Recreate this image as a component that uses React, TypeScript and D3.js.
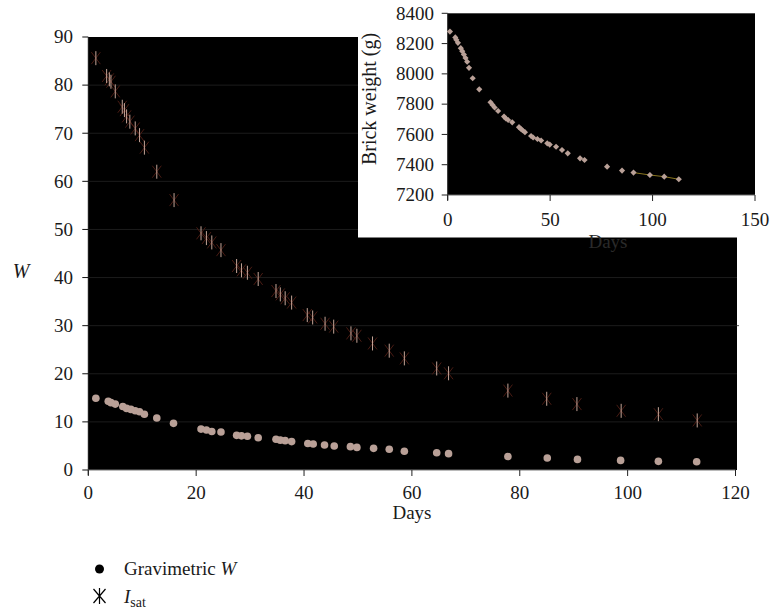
import React, { useEffect, useRef } from 'react';
import * as d3 from 'd3';

// Gravimetric W (main chart, circles)
const gravDays = [1.4, 3.7, 4.2, 5.0, 6.4, 7.1, 7.9, 8.7, 9.5, 10.4, 12.7, 15.8, 20.9, 21.9, 22.9, 24.6, 27.5, 28.4, 29.5, 31.5, 34.8, 35.6, 36.5, 37.7, 40.7, 41.7, 43.8, 45.6, 48.6, 49.8, 52.9, 55.8, 58.6, 64.6, 66.8, 77.8, 85.1, 90.7, 98.7, 105.7, 112.8];
const gravW = [14.9, 14.3, 14.0, 13.7, 13.2, 12.8, 12.6, 12.3, 12.1, 11.6, 10.8, 9.7, 8.5, 8.3, 8.0, 7.9, 7.2, 7.1, 7.0, 6.7, 6.4, 6.2, 6.1, 5.9, 5.5, 5.4, 5.2, 5.0, 4.85, 4.7, 4.5, 4.3, 3.9, 3.6, 3.4, 2.8, 2.5, 2.2, 2.0, 1.8, 1.7];

// I_sat (main chart, crosses with error bars)
const isatDays = [1.4, 3.4, 3.9, 4.2, 5.0, 6.3, 6.7, 7.1, 7.7, 8.7, 9.5, 10.4, 12.7, 15.9, 20.9, 21.9, 22.9, 24.6, 27.5, 28.4, 29.5, 31.5, 34.8, 35.6, 36.5, 37.7, 40.6, 41.6, 43.9, 45.5, 48.7, 49.8, 52.7, 55.8, 58.6, 64.6, 66.8, 77.8, 85.0, 90.6, 98.8, 105.7, 112.9];
const isatW = [85.6, 81.9, 81.2, 80.7, 78.7, 75.5, 74.8, 73.5, 72.4, 71.0, 69.6, 67.0, 62.0, 56.1, 49.2, 48.2, 47.3, 45.7, 42.4, 41.5, 41.0, 39.7, 37.2, 36.5, 35.7, 34.8, 32.2, 31.7, 30.4, 29.8, 28.4, 27.9, 26.3, 24.8, 23.2, 21.1, 20.1, 16.5, 14.8, 13.7, 12.3, 11.6, 10.3];

// Inset: brick weight (g)
const insetDays = [1.1, 3.7, 4.2, 5.0, 6.4, 7.1, 7.9, 8.7, 9.5, 10.4, 12.2, 15.4, 20.9, 21.9, 22.9, 24.6, 27.5, 28.4, 29.5, 31.5, 34.8, 35.6, 36.5, 37.7, 40.7, 41.7, 43.8, 45.6, 48.6, 49.8, 52.9, 55.8, 58.6, 64.6, 66.8, 77.8, 85.1, 90.7, 98.7, 105.7, 112.8];
const insetWeights = [8279, 8241, 8225, 8205, 8170, 8150, 8128, 8105, 8080, 8040, 7971, 7898, 7812, 7795, 7778, 7755, 7718, 7705, 7695, 7680, 7648, 7638, 7628, 7615, 7590, 7580, 7570, 7560, 7541, 7533, 7519, 7497, 7475, 7442, 7431, 7387, 7361, 7348, 7332, 7321, 7304];
const insetTrendDays = [90.7, 98.7, 105.7, 112.8];
const insetTrendWeights = [7348, 7332, 7321, 7304];

const mainXTicks = [0, 20, 40, 60, 80, 100, 120];
const mainYTicks = [0, 10, 20, 30, 40, 50, 60, 70, 80, 90];
const insetXTicks = [0, 50, 100, 150];
const insetYTicks = [7200, 7400, 7600, 7800, 8000, 8200, 8400];

const FONT = '"Liberation Serif", "Times New Roman", serif';
const POINT = '#b9a097';

export default function App() {
  const ref = useRef<SVGSVGElement>(null);

  useEffect(() => {
    const svg = d3.select(ref.current);
    svg.selectAll('*').remove();
    svg.attr('font-family', FONT);

    // ---------- main chart ----------
    const x = d3.scaleLinear().domain([0, 120]).range([88.3, 735.5]);
    const y = d3.scaleLinear().domain([0, 90]).range([470, 37]);

    const main = svg.append('g');
    main.append('rect')
      .attr('x', x(0)).attr('y', y(90))
      .attr('width', 737 - x(0)).attr('height', y(0) - y(90))
      .attr('fill', '#000');

    // gridlines
    main.append('g').selectAll('line')
      .data(mainYTicks.filter(t => t > 0 && t < 90))
      .join('line')
      .attr('x1', x(0)).attr('x2', 737)
      .attr('y1', d => y(d)).attr('y2', d => y(d))
      .attr('stroke', '#1c1c1c').attr('stroke-width', 1);
    main.append('line').attr('x1', 737).attr('x2', 739).attr('y1', y(30)).attr('y2', y(30)).attr('stroke', '#555');

    // y axis
    main.append('line').attr('x1', x(0)).attr('x2', x(0)).attr('y1', y(90)).attr('y2', y(0) + 5).attr('stroke', '#111');
    main.append('g').selectAll('line').data(mainYTicks).join('line')
      .attr('x1', x(0) - 6).attr('x2', x(0)).attr('y1', d => y(d)).attr('y2', d => y(d))
      .attr('stroke', '#111');
    main.append('g').selectAll('text').data(mainYTicks).join('text')
      .attr('x', 73).attr('y', d => y(d) + 6.3)
      .attr('text-anchor', 'end').attr('font-size', 19).attr('fill', '#1a1a1a')
      .text(d => d);

    // x axis
    main.append('line').attr('x1', x(0)).attr('x2', x(120)).attr('y1', y(0)).attr('y2', y(0)).attr('stroke', '#777');
    main.append('g').selectAll('line').data(mainXTicks).join('line')
      .attr('x1', d => x(d)).attr('x2', d => x(d)).attr('y1', y(0)).attr('y2', y(0) + 6)
      .attr('stroke', '#222');
    main.append('g').selectAll('text').data(mainXTicks).join('text')
      .attr('x', d => x(d)).attr('y', 498.5)
      .attr('text-anchor', 'middle').attr('font-size', 19).attr('fill', '#1a1a1a')
      .text(d => d);

    main.append('text').attr('x', 412).attr('y', 519)
      .attr('text-anchor', 'middle').attr('font-size', 19).attr('fill', '#1a1a1a').text('Days');
    main.append('text').attr('x', 21).attr('y', 278)
      .attr('text-anchor', 'middle').attr('font-size', 20).attr('font-style', 'italic').attr('fill', '#1a1a1a').text('W');

    // I_sat markers
    const isat = d3.range(isatDays.length).map(i => ({ d: isatDays[i], w: isatW[i] }));
    const ig = main.append('g');
    ig.selectAll('path.x').data(isat).join('path')
      .attr('d', p => {
        const cx = x(p.d), cy = y(p.w);
        return `M${cx - 4.5},${cy - 6}L${cx + 4.5},${cy + 6}M${cx - 4.5},${cy + 6}L${cx + 4.5},${cy - 6}`;
      })
      .attr('stroke', '#4a1c14').attr('stroke-width', 1).attr('fill', 'none');
    ig.selectAll('line.e').data(isat).join('line')
      .attr('x1', p => x(p.d)).attr('x2', p => x(p.d))
      .attr('y1', p => y(p.w) - 7).attr('y2', p => y(p.w) + 7)
      .attr('stroke', '#c4a497').attr('stroke-width', 1);

    // Gravimetric circles
    main.append('g').selectAll('circle').data(d3.range(gravDays.length)).join('circle')
      .attr('cx', i => x(gravDays[i])).attr('cy', i => y(gravW[i])).attr('r', 3.8)
      .attr('fill', POINT);

    // legend
    const lg = svg.append('g');
    lg.append('circle').attr('cx', 99.5).attr('cy', 569).attr('r', 4.5).attr('fill', '#000');
    const t1 = lg.append('text').attr('x', 124).attr('y', 575).attr('font-size', 19).attr('fill', '#1a1a1a');
    t1.append('tspan').text('Gravimetric ');
    t1.append('tspan').attr('font-style', 'italic').text('W');
    lg.append('path')
      .attr('d', 'M93.5,589L105.5,603M93.5,603L105.5,589M99.5,588L99.5,604')
      .attr('stroke', '#000').attr('stroke-width', 1.2).attr('fill', 'none');
    const t2 = lg.append('text').attr('x', 124).attr('y', 603).attr('font-size', 19).attr('fill', '#1a1a1a');
    t2.append('tspan').attr('font-style', 'italic').text('I');
    t2.append('tspan').attr('font-size', 14).attr('dy', 4).text('sat');

    // ---------- inset ----------
    const ix = d3.scaleLinear().domain([0, 150]).range([447.7, 755]);
    const iy = d3.scaleLinear().domain([7200, 8400]).range([195, 13.3]);
    const inset = svg.append('g');
    inset.append('rect').attr('x', 358).attr('y', 0).attr('width', 414).attr('height', 237.5).attr('fill', '#fff');
    inset.append('rect').attr('x', ix(0)).attr('y', iy(8400))
      .attr('width', ix(150) - ix(0)).attr('height', iy(7200) - iy(8400)).attr('fill', '#000');

    inset.append('line').attr('x1', ix(0)).attr('x2', ix(0)).attr('y1', iy(8400)).attr('y2', iy(7200) + 5).attr('stroke', '#222');
    inset.append('g').selectAll('line').data(insetYTicks).join('line')
      .attr('x1', ix(0) - 6).attr('x2', ix(0)).attr('y1', d => iy(d)).attr('y2', d => iy(d)).attr('stroke', '#222');
    inset.append('g').selectAll('text').data(insetYTicks).join('text')
      .attr('x', 434).attr('y', d => iy(d) + 6.3)
      .attr('text-anchor', 'end').attr('font-size', 19).attr('fill', '#1a1a1a').text(d => d);

    inset.append('line').attr('x1', ix(0)).attr('x2', ix(150)).attr('y1', iy(7200)).attr('y2', iy(7200)).attr('stroke', '#666');
    inset.append('g').selectAll('line').data(insetXTicks).join('line')
      .attr('x1', d => ix(d)).attr('x2', d => ix(d)).attr('y1', iy(7200)).attr('y2', iy(7200) + 6).attr('stroke', '#222');
    inset.append('g').selectAll('text').data(insetXTicks).join('text')
      .attr('x', d => ix(d)).attr('y', 225.5)
      .attr('text-anchor', 'middle').attr('font-size', 19).attr('fill', '#1a1a1a').text(d => d);

    inset.append('text')
      .attr('transform', 'translate(376,99) rotate(-90)')
      .attr('text-anchor', 'middle').attr('font-size', 20).attr('fill', '#1a1a1a')
      .text('Brick weight (g)');

    const line = d3.line<number>().x(i => ix(insetTrendDays[i])).y(i => iy(insetTrendWeights[i]));
    inset.append('path').attr('d', line(d3.range(insetTrendDays.length)) as string)
      .attr('stroke', '#8a7620').attr('stroke-width', 1).attr('fill', 'none');

    const diamond = d3.symbol().type(d3.symbolDiamond2).size(24);
    inset.append('g').selectAll('path').data(d3.range(insetDays.length)).join('path')
      .attr('transform', i => `translate(${ix(insetDays[i])},${iy(insetWeights[i])})`)
      .attr('d', diamond as any)
      .attr('fill', POINT);

    svg.append('text').attr('x', 608).attr('y', 248)
      .attr('text-anchor', 'middle').attr('font-size', 19).attr('fill', '#2a2a2a').text('Days');
  }, []);

  return (
    <svg
      ref={ref}
      width={772}
      height={610}
      style={{ position: 'absolute', left: 0, top: 0, background: '#fff' }}
    />
  );
}
